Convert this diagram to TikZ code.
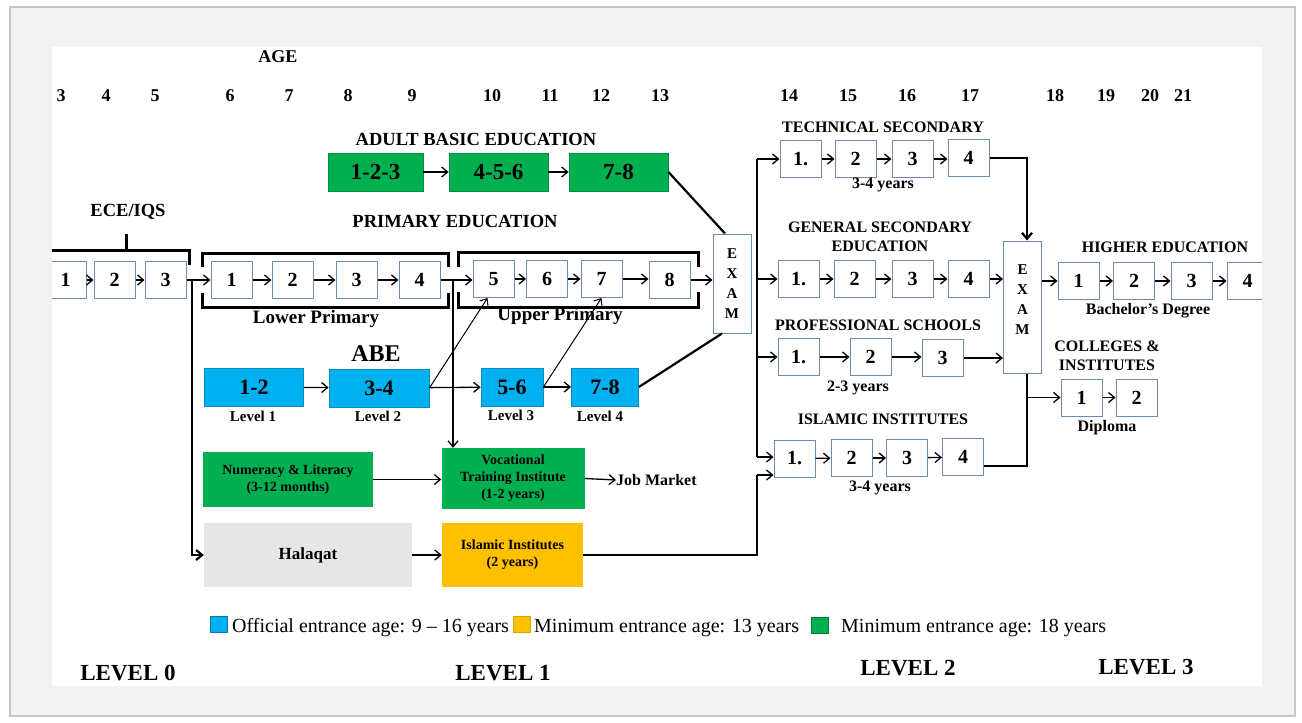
\documentclass[tikz,border=0pt]{standalone}
\usepackage{fontspec}
\setmainfont{Liberation Serif}
\usetikzlibrary{arrows.meta}
\definecolor{abegreen}{HTML}{00B050}
\definecolor{abeblue}{HTML}{00B0F0}
\definecolor{islorange}{HTML}{FFC000}
\definecolor{halgray}{HTML}{E7E6E6}
\definecolor{boxedge}{HTML}{6A8CB0}
\definecolor{framegray}{HTML}{F2F2F2}
\newcommand{\fsz}[2]{\fontsize{#1}{#2}\selectfont}
\begin{document}
\begin{tikzpicture}[x=1pt,y=-1pt,>={Straight Barb[length=6pt,width=10pt]},
    agelab/.style={font=\fsz{18}{20}\bfseries},
    title/.style={font=\fsz{18.5}{21}\bfseries},
    rtitle/.style={font=\fsz{16}{19}\bfseries,align=center},
    sublab/.style={font=\fsz{15}{17}\bfseries},
    stagelab/.style={font=\fsz{23}{25}\bfseries},
    wbox/.style={draw=boxedge,fill=white,line width=1pt,minimum width=41pt,minimum height=37pt,inner sep=0pt,font=\fsz{20}{24}\bfseries},
    gbox/.style={draw=abegreen!80!black,fill=abegreen,line width=0.8pt,minimum height=38pt,inner sep=0pt,font=\fsz{23}{25}\bfseries},
    bbox/.style={draw=abeblue!80!black,fill=abeblue,line width=0.8pt,minimum height=38pt,inner sep=0pt,font=\fsz{22}{24}\bfseries},
    fbox/.style={inner sep=0pt,align=center,font=\fsz{14}{17}\bfseries},
    exam/.style={draw=boxedge,fill=white,line width=1pt,minimum width=38pt,inner sep=0pt,align=center,font=\fsz{15}{20}\bfseries},
    arr/.style={->,line width=1.3pt},
    link/.style={line width=2.2pt},
    brk/.style={line width=3pt},
    legsq/.style={minimum width=17pt,minimum height=16pt,inner sep=0pt,line width=0.8pt},
    legtext/.style={anchor=base west,inner sep=0pt,font=\fsz{20}{22}}]
    \useasboundingbox (0,0) rectangle (1302,723);
    %frame
    \filldraw[fill=framegray,draw=black!22,line width=2pt] (10,7) rectangle (1295,716);
    \fill[white] (52,47) rectangle (1262,686);
    \begin{scope}
    \clip (52,47) rectangle (1262,686);
    %ages
    \node[agelab] (age) at (278,57) {AGE};
    \node[agelab] (a3) at (61,96) {3};
    \node[agelab] (a4) at (106,96) {4};
    \node[agelab] (a5) at (155,96) {5};
    \node[agelab] (a6) at (230,96) {6};
    \node[agelab] (a7) at (289,96) {7};
    \node[agelab] (a8) at (348,96) {8};
    \node[agelab] (a9) at (412,96) {9};
    \node[agelab] (a10) at (492,96) {10};
    \node[agelab] (a11) at (550,96) {11};
    \node[agelab] (a12) at (601,96) {12};
    \node[agelab] (a13) at (660,96) {13};
    \node[agelab] (a14) at (789,96) {14};
    \node[agelab] (a15) at (848,96) {15};
    \node[agelab] (a16) at (907,96) {16};
    \node[agelab] (a17) at (970,96) {17};
    \node[agelab] (a18) at (1055,96) {18};
    \node[agelab] (a19) at (1106,96) {19};
    \node[agelab] (a20) at (1150,96) {20};
    \node[agelab] (a21) at (1183,96) {21};
    %adult basic education
    \node[title] (abetitle) at (476,139) {ADULT BASIC EDUCATION};
    \node[gbox,minimum width=95pt] (ab1) at (375.5,172) {1-2-3};
    \node[gbox,minimum width=99pt] (ab2) at (498.5,172) {4-5-6};
    \node[gbox,minimum width=99pt] (ab3) at (618.5,172) {7-8};
    \draw[arr] (ab1) -- (ab2);
    \draw[arr] (ab2) -- (ab3);
    %ece
    \node[title] (ecetitle) at (128,212) {ECE/IQS};
    \node[wbox] (e1) at (65.5,280) {1};
    \node[wbox] (e2) at (114.5,280) {2};
    \node[wbox] (e3) at (165.5,280) {3};
    \draw[brk] (40,250) -- (189,250) -- (189,265);
    \draw[brk] (126,234) -- (126,250);
    \draw[arr] (e1) -- (e2);
    \draw[arr] (e2) -- (e3);
    %primary
    \node[title] (primtitle) at (455,221) {PRIMARY EDUCATION};
    \node[wbox] (p1) at (231.5,280) {1};
    \node[wbox] (p2) at (292.5,280) {2};
    \node[wbox] (p3) at (356.5,280) {3};
    \node[wbox] (p4) at (419.5,280) {4};
    \node[wbox] (p5) at (493.5,279) {5};
    \node[wbox] (p6) at (547,279) {6};
    \node[wbox] (p7) at (601.5,279) {7};
    \node[wbox] (p8) at (669.5,280) {8};
    \draw[brk] (202,267) -- (202,253) -- (448,253) -- (448,267);
    \draw[brk] (202,293) -- (202,307) -- (448,307) -- (448,293);
    \draw[brk] (458,267) -- (458,252) -- (698,252) -- (698,267);
    \draw[brk] (458,292) -- (458,307) -- (698,307) -- (698,292);
    \node[font=\fsz{19}{21}\bfseries] (lowlab) at (316,319) {Lower Primary};
    \node[font=\fsz{19}{21}\bfseries] (uplab) at (560,316) {Upper Primary};
    \draw[arr] (e3) -- (p1);
    \draw[arr] (p1) -- (p2);
    \draw[arr] (p2) -- (p3);
    \draw[arr] (p3) -- (p4);
    \draw[arr] (p4.east) -- (p4.east -| p5.west);
    \draw[arr] (p5) -- (p6);
    \draw[arr] (p6) -- (p7);
    \draw[arr] (p7.east) -- (p7.east -| p8.west);
    %exam
    \node[exam,minimum height=99pt] (exam1) at (732,283.5) {E\\X\\A\\M};
    \draw[arr] (p8.east) -- (p8.east -| exam1.west);
    \draw[link] (ab3.east) -- ([xshift=-7pt]exam1.north);
    %abe
    \node[font=\fsz{24}{26}\bfseries] (abelab) at (376,354) {ABE};
    \node[bbox,minimum width=99pt] (b1) at (254,387) {1-2};
    \node[bbox,minimum width=100pt] (b2) at (379,388) {3-4};
    \node[bbox,minimum width=62pt] (b3) at (512,387) {5-6};
    \node[bbox,minimum width=67pt] (b4) at (605,387) {7-8};
    \node[sublab] (lev1) at (253,416) {Level 1};
    \node[sublab] (lev2) at (378,416) {Level 2};
    \node[sublab] (lev3) at (511,415) {Level 3};
    \node[sublab] (lev4) at (600,416) {Level 4};
    \draw[arr] (b1) -- (b2);
    \draw[arr] (b2) -- (b3);
    \draw[arr] (b3) -- (b4);
    \draw[->,line width=1pt] (b2.east) -- ([xshift=-6pt]p5.south);
    \draw[->,line width=1pt] (b3.east) -- (p7.south);
    \draw[link] (b4.east) -- ([xshift=-10pt]exam1.south);
    %literacy and vocational
    \node[fbox,fill=abegreen,minimum width=170pt,minimum height=55pt] (nl) at (288,479.5) {Numeracy \& Literacy\\(3-12 months)};
    \node[fbox,fill=abegreen,minimum width=143pt,minimum height=61pt] (vt) at (513,478.5) {Vocational\\Training Institute\\(1-2 years)};
    \node[font=\fsz{16}{18}\bfseries,anchor=west,inner sep=0pt] (job) at (616,480) {Job Market};
    \coordinate (vsplit) at (453,280);
    \draw[arr] (vsplit) -- (vsplit |- vt.north);
    \draw[arr] (nl) -- (nl -| vt.west);
    \draw[arr] (vt.east) -- (job.west);
    %halaqat
    \node[fbox,fill=halgray,minimum width=208pt,minimum height=64pt,font=\fsz{17}{20}\bfseries] (hal) at (308,555) {Halaqat};
    \node[fbox,fill=islorange,minimum width=141pt,minimum height=64pt] (isl) at (512.5,555) {Islamic Institutes\\(2 years)};
    \coordinate (esplit) at (192,280);
    \draw[link,->] (esplit) |- (hal.west);
    \draw[arr] (hal) -- (isl);
    %secondary
    \node[rtitle] (techtitle) at (883,127) {TECHNICAL SECONDARY};
    \node[wbox] (t1) at (800.5,159) {1.};
    \node[wbox] (t2) at (855.5,159) {2};
    \node[wbox] (t3) at (912.5,159) {3};
    \node[wbox] (t4) at (968.5,158) {4};
    \node[rtitle] (techyrs) at (883,185) {3-4 years};
    \node[rtitle] (gentitle) at (880,237) {GENERAL SECONDARY\\EDUCATION};
    \node[wbox] (g1) at (798.5,279) {1.};
    \node[wbox] (g2) at (854.5,279) {2};
    \node[wbox] (g3) at (912.5,279) {3};
    \node[wbox] (g4) at (968.5,279) {4};
    \node[rtitle] (proftitle) at (878,325) {PROFESSIONAL SCHOOLS};
    \node[wbox] (r1) at (798.5,357) {1.};
    \node[wbox] (r2) at (870.5,357) {2};
    \node[wbox] (r3) at (942.5,358) {3};
    \node[rtitle] (profyrs) at (858,388) {2-3 years};
    \node[rtitle] (isltitle) at (883,419) {ISLAMIC INSTITUTES};
    \node[wbox] (i1) at (794.5,458.5) {1.};
    \node[wbox] (i2) at (851.5,458) {2};
    \node[wbox] (i3) at (907,458) {3};
    \node[wbox] (i4) at (963,457) {4};
    \node[rtitle] (islyrs) at (880,488) {3-4 years};
    \coordinate (sptop) at (757,159);
    \coordinate (spbot) at (757,457);
    \draw[link] (sptop) -- (spbot);
    \draw[arr] (sptop) -- (t1.west);
    \draw[arr] (sptop |- g1.west) -- (g1.west);
    \draw[arr] (sptop |- r1.west) -- (r1.west);
    \draw[arr] (spbot) -- (spbot -| i1.west);
    \draw[link] (isl.east) -| (spbot |- 0,475);
    \draw[arr] (spbot |- 0,475) -- (i1.west |- 0,475);
    \draw[arr] (t1) -- (t2);
    \draw[arr] (t2) -- (t3);
    \draw[arr] (t3.east) -- (t3.east -| t4.west);
    \draw[arr] (g1) -- (g2);
    \draw[arr] (g2) -- (g3);
    \draw[arr] (g3) -- (g4);
    \draw[arr] (r1) -- (r2);
    \draw[arr] (r2.east) -- (r2.east -| r3.west);
    \draw[arr] (i1) -- (i2);
    \draw[arr] (i2) -- (i3);
    \draw[arr] (i3) -- (i4);
    %second exam
    \node[exam,minimum height=132pt] (exam2) at (1022.5,307) {};
    \node[exam,draw=none,fill=none] (exam2t) at (1022.5,300) {E\\X\\A\\M};
    \coordinate (xcol) at (1027,0);
    \draw[link,->] (t4.east) -| (xcol |- exam2.north);
    \draw[arr] (g4.east) -- (g4.east -| exam2.west);
    \draw[arr] (r3.east) -- (r3.east -| exam2.west);
    \draw[link] ([yshift=-9pt]i4.east) -| (xcol |- exam2.south);
    %higher education
    \node[rtitle] (hetitle) at (1165,247) {HIGHER EDUCATION};
    \node[wbox] (h1) at (1078.5,281) {1};
    \node[wbox] (h2) at (1134,281) {2};
    \node[wbox] (h3) at (1191.5,281) {3};
    \node[wbox] (h4) at (1247.5,281) {4};
    \node[rtitle] (bachlab) at (1148,311) {Bachelor's Degree};
    \node[rtitle] (coltitle) at (1107,356) {COLLEGES \&\\INSTITUTES};
    \node[wbox] (c1) at (1081.5,397.5) {1};
    \node[wbox] (c2) at (1136.5,397.5) {2};
    \node[rtitle] (diplab) at (1107,428) {Diploma};
    \draw[arr] (exam2.east |- h1.west) -- (h1.west);
    \draw[arr] (h1) -- (h2);
    \draw[arr] (h2) -- (h3);
    \draw[arr] (h3) -- (h4);
    \draw[arr] (xcol |- c1.west) -- (c1.west);
    \draw[arr] (c1) -- (c2);
    %legend
    \node[legsq,fill=abeblue,draw=abeblue!70!black] (sqblue) at (218.5,624.5) {};
    \node[legtext] (legblue) at (232,632) {Official entrance age: 9 – 16 years};
    \node[legsq,fill=islorange,draw=islorange!85!black] (sqorange) at (521.5,624.5) {};
    \node[legtext] (legorange) at (534,632) {Minimum entrance age: 13 years};
    \node[legsq,fill=abegreen,draw=abegreen!70!black] (sqgreen) at (819.5,625) {};
    \node[legtext] (leggreen) at (841,632) {Minimum entrance age: 18 years};
    %levels
    \node[stagelab] (lvl0) at (128,673) {LEVEL 0};
    \node[stagelab] (lvl1) at (503,673) {LEVEL 1};
    \node[stagelab] (lvl2) at (908,668) {LEVEL 2};
    \node[stagelab] (lvl3) at (1146,667) {LEVEL 3};
    \end{scope}
\end{tikzpicture}
\end{document}
